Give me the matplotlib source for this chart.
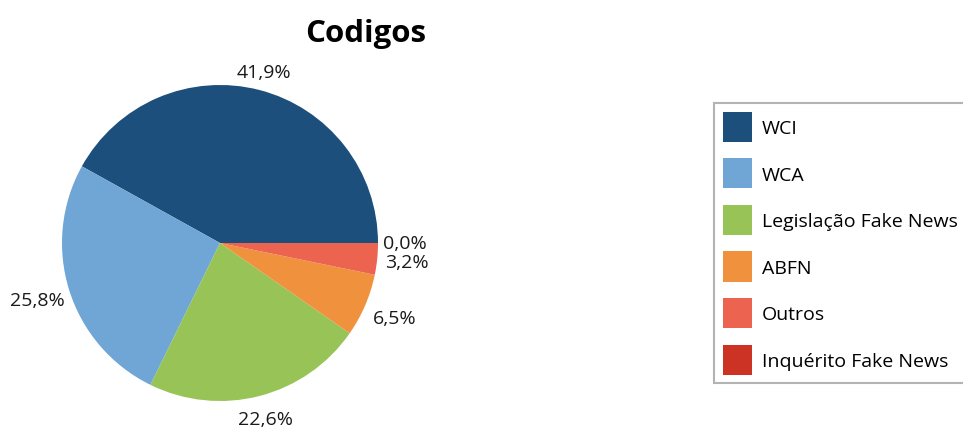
import matplotlib.pyplot as plt

plt.rcParams["font.family"] = ["Open Sans", "DejaVu Sans"]

# ------------------------------------------------------------------
# Data
# ------------------------------------------------------------------

categories = ["WCI", "WCA", "Legislação Fake News", "ABFN", "Outros", "Inquérito Fake News"]
counts = [13, 8, 7, 2, 1, 0]
colors = ["#1c4f7c", "#6fa6d5", "#98c357", "#f0923d", "#ec6450", "#cc3325"]

# ------------------------------------------------------------------
# Figure
# ------------------------------------------------------------------

fig = plt.figure(figsize=(9.63, 4.31), dpi=100)

W, H = 963, 431
cx, cy, r = 220, 244, 158
ax = fig.add_axes([(cx - r) / W, (H - cy - r) / H, 2 * r / W, 2 * r / H])

wedges, texts, autotexts = ax.pie(
    counts,
    colors=colors,
    startangle=0,
    counterclock=True,
    autopct=lambda p: f"{p:.1f}%".replace(".", ","),
    pctdistance=1.0,
    wedgeprops=dict(linewidth=0),
    textprops=dict(fontsize=14, color="#1a1a1a"),
)

# push the percentage labels out past the rim (Excel-like placement)
label_dist = [1.12, 1.21, 1.15, 1.20, 1.19, 1.17]
for t, d in zip(autotexts, label_dist):
    x, y = t.get_position()
    t.set_position((x * d, y * d))

ax.set_aspect("equal")
ax.set_xlim(-1, 1)
ax.set_ylim(-1, 1)

fig.text(366 / W, 1 - 42 / H, "Codigos", fontsize=22.5, fontweight="bold",
         ha="center", va="baseline")

leg = fig.legend(
    wedges,
    categories,
    loc="upper left",
    bbox_to_anchor=(714 / W, 1 - 104 / H),
    fontsize=14,
    frameon=True,
    fancybox=False,
    edgecolor="#a0a0a0",
    handlelength=1.5,
    handleheight=2.0,
    handletextpad=0.5,
    labelspacing=0.85,
    borderpad=0.45,
    borderaxespad=0,
)
leg.get_frame().set_linewidth(1.5)

fig.savefig("out.png", dpi=100)
